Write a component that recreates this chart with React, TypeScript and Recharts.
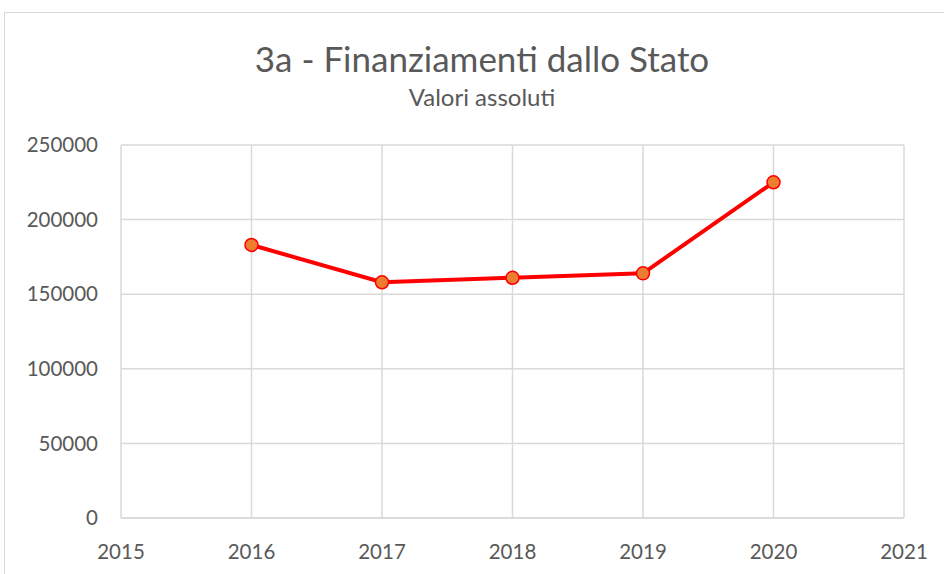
import React from 'react'
import { LineChart, Line, XAxis, YAxis, CartesianGrid } from 'recharts'

const years = [2016, 2017, 2018, 2019, 2020]
const valori = [183000, 158000, 161000, 164000, 225000]
const xTicks = [2015, 2016, 2017, 2018, 2019, 2020, 2021]
const yTicks = [0, 50000, 100000, 150000, 200000, 250000]

const data = years.map((anno, i) => ({ anno, valore: valori[i] }))

const FONT = 'Lato, "Open Sans", sans-serif'
const TEXT = '#595959'
const GRID = '#d9d9d9'

export default function App() {
  return (
    <div
      style={{
        position: 'absolute',
        left: 0,
        top: 0,
        width: 944,
        height: 574,
        overflow: 'hidden',
        background: '#fff',
        fontFamily: FONT
      }}
    >
      <div
        style={{
          position: 'absolute',
          left: 4,
          top: 12,
          width: 1000,
          height: 700,
          border: `1px solid ${GRID}`
        }}
      />
      <div
        style={{
          position: 'absolute',
          left: 0,
          width: 964,
          top: 37,
          textAlign: 'center',
          color: TEXT,
          fontSize: 35,
          lineHeight: '42px'
        }}
      >
        3a - Finanziamenti dallo Stato
      </div>
      <div
        style={{
          position: 'absolute',
          left: 0,
          width: 964,
          top: 82,
          textAlign: 'center',
          color: TEXT,
          fontSize: 24,
          lineHeight: '30px'
        }}
      >
        Valori assoluti
      </div>
      <div style={{ position: 'absolute', left: 0, top: 0 }}>
        <LineChart
          width={944}
          height={574}
          data={data}
          margin={{ top: 145, right: 40, bottom: 0, left: 0 }}
        >
          <CartesianGrid stroke={GRID} strokeWidth={1.5} />
          <XAxis
            dataKey="anno"
            type="number"
            domain={[2015, 2021]}
            ticks={xTicks}
            height={56}
            tickSize={0}
            tickMargin={26}
            axisLine={{ stroke: GRID, strokeWidth: 1.5 }}
            tickLine={false}
            tick={{ fill: TEXT, fontSize: 20.5, fontFamily: FONT }}
          />
          <YAxis
            type="number"
            domain={[0, 250000]}
            ticks={yTicks}
            width={121}
            tickSize={0}
            tickMargin={23}
            axisLine={false}
            tickLine={false}
            tick={{ fill: TEXT, fontSize: 20.5, fontFamily: FONT }}
          />
          <Line
            dataKey="valore"
            type="linear"
            stroke="#ff0000"
            strokeWidth={4}
            dot={{ r: 6.5, fill: '#ed7d31', stroke: '#ff0000', strokeWidth: 1.5 }}
            activeDot={false}
            isAnimationActive={false}
          />
        </LineChart>
      </div>
    </div>
  )
}
